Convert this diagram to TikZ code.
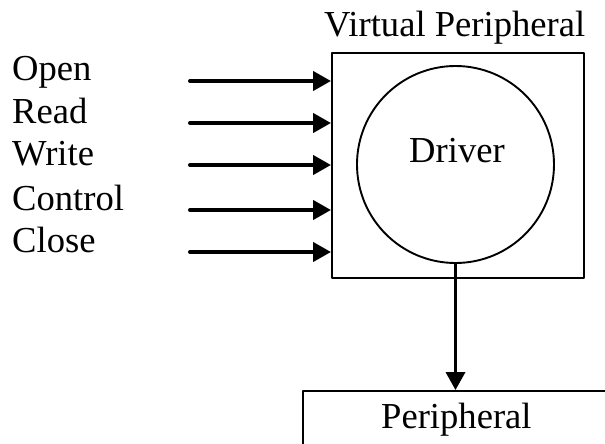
\documentclass[tikz,border=0pt]{standalone}
\usepackage{fontspec}
\setmainfont{Liberation Serif}
\usetikzlibrary{arrows.meta}

\begin{document}
\begin{tikzpicture}[>={Triangle[length=18pt,width=19pt]},line join=bevel,x=1pt,y=-1pt,
  every node/.style={font=\fontsize{36.6}{40}\selectfont,inner sep=0pt},
  frame/.style={draw,line width=1.9pt},
  callarrow/.style={->,line width=4pt,line cap=round}]
%%
\clip (0,0) rectangle (605,444);
\node (vbox) at (458,165.5) [frame,minimum width=252pt,minimum height=225pt] {};
  \node (drv) at (455.5,164.5) [frame,circle,minimum size=197pt] {};
  \node (drv_text) at (457,162) [anchor=base] {Driver};
  \node (vbox_title) at (324,37) [anchor=base west] {Virtual Peripheral};
  \node (periph) at (470,430) [frame,minimum width=334pt,minimum height=78pt] {};
  \node (periph_text) at (381,428) [anchor=base west] {Peripheral};
  \node (op_open) at (12,81) [anchor=base west] {Open};
  \node (op_read) at (12,123) [anchor=base west] {Read};
  \node (op_write) at (12,165) [anchor=base west] {Write};
  \node (op_control) at (12,210) [anchor=base west] {Control};
  \node (op_close) at (12,252) [anchor=base west] {Close};
  \coordinate (in_open) at (190,81);
  \coordinate (in_read) at (190,123);
  \coordinate (in_write) at (190,165);
  \coordinate (in_control) at (190,210);
  \coordinate (in_close) at (190,252);
  \draw [callarrow] (in_open) -- (in_open -| vbox.west);
  \draw [callarrow] (in_read) -- (in_read -| vbox.west);
  \draw [callarrow] (in_write) -- (in_write -| vbox.west);
  \draw [callarrow] (in_control) -- (in_control -| vbox.west);
  \draw [callarrow] (in_close) -- (in_close -| vbox.west);
  \draw [->,line width=3.5pt] (drv.south) -- (drv.south |- periph.north);
%
\end{tikzpicture}
\end{document}
